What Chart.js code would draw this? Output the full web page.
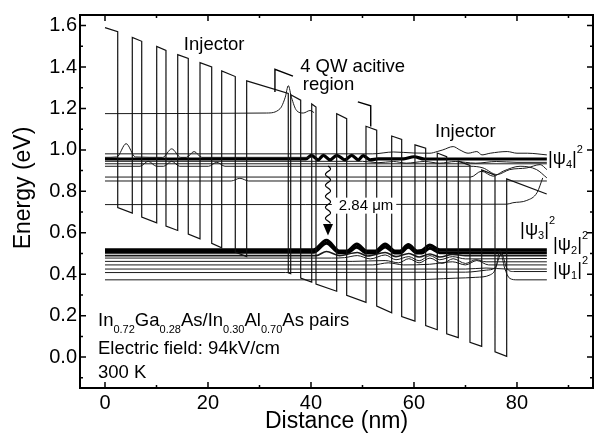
<!DOCTYPE html>
<html>
<head>
<meta charset="utf-8">
<script src="https://cdn.jsdelivr.net/npm/chart.js@4.4.1/dist/chart.umd.min.js"></script>
<style>
  html, body { margin: 0; padding: 0; background: #fff; }
</style>
</head>
<body>
<canvas id="c" width="598" height="442"></canvas>
<script>
(function () {
  'use strict';

  var FONT = "'Liberation Sans', Arial, sans-serif";

  // --- Axis ticks ---
  var xTicks = [0, 20, 40, 60, 80];
  var xMinor = [10, 30, 50, 70, 90];
  var yTicks = [0, 0.2, 0.4, 0.6, 0.8, 1.0, 1.2, 1.4, 1.6];
  var yMinor = [-0.1, 0.1, 0.3, 0.5, 0.7, 0.9, 1.1, 1.3, 1.5];

  // --- Conduction band: interface positions (nm) and band edges there (eV) ---
  var layerX = [0, 2.47, 5.30, 7.13, 10.04, 11.84, 14.12, 16.17, 18.45, 20.72, 22.66, 25.30, 27.51,
    35.59, 36.06, 38.0, 40.14, 40.97, 44.99, 46.93, 50.68, 52.76, 55.67, 57.61, 60.19, 62.27,
    64.52, 66.35, 68.6, 70.87, 73.15, 75.73, 78.0, 85.77];
  var barrierTop = [1.59, 1.571, 1.543, 1.524, 1.499, 1.480, 1.460, 1.441, 1.421, 1.400, 1.381, 1.354, 1.333,
    1.272, 1.266, 1.240, 1.222, 1.207, 1.175, 1.151, 1.114, 1.095, 1.067, 1.051, 1.024, 1.008,
    0.985, 0.967, 0.946, 0.925, 0.903, 0.878, 0.860, 0.787];
  var wellBottom = [0.745, 0.722, 0.695, 0.676, 0.648, 0.632, 0.611, 0.594, 0.571, 0.549, 0.528, 0.507, 0.485,
    0.407, 0.403, 0.381, 0.362, 0.352, 0.318, 0.298, 0.264, 0.246, 0.214, 0.196, 0.174, 0.152,
    0.132, 0.113, 0.094, 0.071, 0.052, 0.026, 0.004, 0.0];

  // --- |psi|^2 curves, drawn at their energy levels ---
  var s1175X = [0, 31.4, 34.0, 35.0, 35.6, 36.2, 37.2, 38.5, 39.8, 40.6];
  var s1175E = [1.175, 1.178, 1.199, 1.254, 1.31, 1.254, 1.19, 1.178, 1.19, 1.18];

  var up981X = [0, 52, 56, 60, 63.1, 64.5, 65.6, 67.6, 68.9, 70.5, 72.2, 73.2, 74.8, 78.1, 80, 82, 85.8];
  var up981E = [0.981, 0.981, 0.99, 0.985, 0.984, 0.992, 1.0, 1.016, 1.0, 0.984, 0.992, 0.976, 0.984, 0.992, 0.984, 0.984, 0.976];

  var up964X = [0, 2.3, 4.1, 5.9, 11.2, 12.95, 14.7, 15.8, 17.3, 18.8, 40];
  var up964E = [0.964, 0.966, 1.03, 0.966, 0.964, 1.005, 0.964, 0.964, 0.992, 0.964, 0.964];

  var psi4X = [0, 39, 40.1, 41.4, 42.4, 43.7, 45.0, 46.6, 47.9, 49.2, 50.1, 51.5, 53, 58, 60, 62, 85.8];
  var psi4E = [0.956, 0.956, 0.974, 0.952, 0.974, 0.952, 0.974, 0.952, 0.974, 0.952, 0.972, 0.952, 0.957, 0.957, 0.967, 0.956, 0.956];

  var up945X = [0, 50, 53, 56, 58.5, 62, 65, 68, 72, 76, 80, 85.8];
  var up945E = [0.945, 0.945, 0.938, 0.944, 0.936, 0.944, 0.936, 0.944, 0.936, 0.944, 0.94, 0.94];

  var up933X = [0, 60, 85.8];
  var up933E = [0.933, 0.933, 0.933];

  var up921X = [0, 6.8, 8.4, 10.0, 11.4, 12.95, 14.5, 20.1, 21.7, 23.3, 71, 73.4, 76.1, 78.6, 81.9, 84.5, 85.8];
  var up921E = [0.921, 0.921, 0.945, 0.921, 0.921, 0.945, 0.921, 0.921, 0.94, 0.921, 0.921, 0.913, 0.881, 0.905, 0.913, 0.929, 0.905];

  var up869X = [0, 71, 73.1, 75.4, 77.3, 80.6, 83.8, 85.8];
  var up869E = [0.869, 0.869, 0.897, 0.873, 0.897, 0.921, 0.905, 0.865];

  var up850X = [0, 24.5, 26.2, 27.9, 85.8];
  var up850E = [0.85, 0.85, 0.863, 0.85, 0.85];

  var s736X = [0, 78, 79.2, 81.9, 83.9, 85.0];
  var s736E = [0.736, 0.738, 0.745, 0.756, 0.794, 0.865];

  var lowAX = [0, 40.5, 43.0, 45.5, 47.0, 48.9, 50.8, 52.5, 54.4, 56.3, 57.3, 58.9, 60.6, 61.5, 63.1, 65.0, 85.8];
  var lowAE = [0.518, 0.518, 0.564, 0.512, 0.512, 0.545, 0.512, 0.512, 0.545, 0.512, 0.512, 0.543, 0.512, 0.514, 0.54, 0.518, 0.518];

  var lowBX = [0, 40.5, 43.0, 45.5, 47.0, 48.9, 50.8, 52.5, 54.4, 56.3, 57.3, 58.9, 60.6, 61.5, 63.1, 65.0, 85.8];
  var lowBE = [0.506, 0.506, 0.55, 0.504, 0.504, 0.53, 0.502, 0.502, 0.532, 0.502, 0.502, 0.53, 0.502, 0.502, 0.525, 0.504, 0.504];

  var lowCX = [0, 41, 43, 45.5, 49, 51, 54.4, 56.5, 59, 61, 63.1, 65, 67.5, 70, 85.8];
  var lowCE = [0.49, 0.49, 0.51, 0.49, 0.505, 0.488, 0.505, 0.485, 0.5, 0.483, 0.498, 0.483, 0.496, 0.49, 0.49];

  var lowDX = [0, 44, 46.5, 49, 51.5, 54.4, 56.5, 59, 61, 63.1, 65, 67.5, 70, 85.8];
  var lowDE = [0.478, 0.478, 0.48, 0.49, 0.474, 0.493, 0.47, 0.485, 0.465, 0.49, 0.47, 0.485, 0.474, 0.476];

  var lowEX = [0, 48, 54.4, 57, 59, 61, 63.1, 65.5, 67.6, 70, 72, 74, 85.8];
  var lowEE = [0.462, 0.462, 0.466, 0.455, 0.475, 0.455, 0.478, 0.452, 0.475, 0.452, 0.47, 0.46, 0.46];

  var lowFX = [0, 52, 55, 58, 63, 67.5, 70, 72.2, 74.5, 85.8];
  var lowFE = [0.445, 0.445, 0.455, 0.445, 0.448, 0.46, 0.445, 0.466, 0.445, 0.445];

  var lowGX = [0, 70, 74, 78, 85.8];
  var lowGE = [0.425, 0.425, 0.43, 0.425, 0.425];

  var psi1X = [0, 70, 74.1, 75.7, 77.0, 78.0, 79.3, 85.8];
  var psi1E = [0.408, 0.41, 0.42, 0.43, 0.5, 0.43, 0.413, 0.413];

  var lowIX = [0, 59, 68, 72, 74.8, 75.9, 76.7, 77.6, 78.6, 80, 85.8];
  var lowIE = [0.373, 0.373, 0.381, 0.385, 0.397, 0.43, 0.515, 0.43, 0.38, 0.373, 0.373];

  // --- helpers ---

  function pts(xs, es) {
    return xs.map(function (x, i) { return { x: x, y: es[i] }; });
  }

  function bandPath() {
    var out = [{ x: layerX[0], y: barrierTop[0] }];
    for (var i = 1; i < layerX.length; i++) {
      if (i === layerX.length - 1) { out.push({ x: layerX[i], y: barrierTop[i] }); break; }
      if (i % 2 === 1) {
        out.push({ x: layerX[i], y: barrierTop[i] });
        out.push({ x: layerX[i], y: wellBottom[i] });
      } else {
        out.push({ x: layerX[i], y: wellBottom[i] });
        out.push({ x: layerX[i], y: barrierTop[i] });
      }
    }
    return out;
  }

  function wave(xs, es, width, color) {
    return {
      data: pts(xs, es),
      showLine: true,
      borderColor: color || '#1a1a1a',
      borderWidth: width || 1,
      pointRadius: 0,
      tension: 0.4,
      cubicInterpolationMode: 'monotone'
    };
  }

  function richText(ctx, x, y, parts, size, subDy, supDy) {
    var small = Math.round(size * 0.6);
    parts.forEach(function (p) {
      var kind = p[1];
      ctx.font = (kind === 'n' ? size : small) + 'px ' + FONT;
      var dy = kind === 'sub' ? subDy : (kind === 'sup' ? supDy : 0);
      ctx.fillText(p[0], x, y + dy);
      x += ctx.measureText(p[0]).width;
    });
  }

  // --- frame, ticks, titles and notes ---

  var decor = {
    id: 'decor',
    afterDraw: function (chart) {
      var ctx = chart.ctx;
      var a = chart.chartArea;
      var xs = chart.scales.x, ys = chart.scales.y;
      function X(v) { return xs.getPixelForValue(v); }
      function Y(v) { return ys.getPixelForValue(v); }

      ctx.save();
      ctx.strokeStyle = '#000';
      ctx.fillStyle = '#000';

      // ticks (inside, all four sides)
      ctx.lineWidth = 1.5;
      ctx.beginPath();
      xTicks.forEach(function (v) {
        var p = X(v);
        ctx.moveTo(p, a.bottom); ctx.lineTo(p, a.bottom - 6);
        ctx.moveTo(p, a.top); ctx.lineTo(p, a.top + 6);
      });
      xMinor.forEach(function (v) {
        var p = X(v);
        ctx.moveTo(p, a.bottom); ctx.lineTo(p, a.bottom - 3);
        ctx.moveTo(p, a.top); ctx.lineTo(p, a.top + 3);
      });
      yTicks.forEach(function (v) {
        var p = Y(v);
        ctx.moveTo(a.left, p); ctx.lineTo(a.left + 6, p);
        ctx.moveTo(a.right, p); ctx.lineTo(a.right - 6, p);
      });
      yMinor.forEach(function (v) {
        var p = Y(v);
        ctx.moveTo(a.left, p); ctx.lineTo(a.left + 3, p);
        ctx.moveTo(a.right, p); ctx.lineTo(a.right - 3, p);
      });
      ctx.stroke();

      ctx.lineWidth = 2;
      ctx.strokeRect(a.left, a.top, a.right - a.left, a.bottom - a.top);

      // axis titles
      ctx.font = '23px ' + FONT;
      ctx.textAlign = 'center';
      ctx.textBaseline = 'middle';
      ctx.fillText('Distance (nm)', (a.left + a.right) / 2, 422);
      ctx.save();
      ctx.translate(24, 188);
      ctx.rotate(-Math.PI / 2);
      ctx.fillText('Energy (eV)', 0, 0);
      ctx.restore();

      // bracket over the active region
      ctx.lineWidth = 1.4;
      ctx.beginPath();
      ctx.moveTo(X(33.0), Y(1.28)); ctx.lineTo(X(33.0), Y(1.389)); ctx.lineTo(X(36.5), Y(1.356));
      ctx.moveTo(X(49.1), Y(1.232)); ctx.lineTo(X(51.6), Y(1.213)); ctx.lineTo(X(51.6), Y(1.113));
      ctx.stroke();

      // labels
      ctx.textBaseline = 'alphabetic';
      ctx.font = '18.5px ' + FONT;
      ctx.textAlign = 'center';
      ctx.fillText('Injector', X(21.2), Y(1.481));
      ctx.textAlign = 'left';
      ctx.fillText('4 QW acitive', X(37.9), Y(1.378));
      ctx.fillText('region', X(38.4), Y(1.289));
      ctx.fillText('Injector', X(64.1), Y(1.064));

      richText(ctx, X(86.0), Y(0.932), [['|\u03c8', 'n'], ['4', 'sub'], ['|', 'n'], ['2', 'sup']], 18.5, 4, -11);
      richText(ctx, X(80.6), Y(0.589), [['|\u03c8', 'n'], ['3', 'sub'], ['|', 'n'], ['2', 'sup']], 18.5, 4, -11);
      richText(ctx, X(87.0), Y(0.518), [['|\u03c8', 'n'], ['2', 'sub'], ['|', 'n'], ['2', 'sup']], 18.5, 4, -11);
      richText(ctx, X(87.0), Y(0.394), [['|\u03c8', 'n'], ['1', 'sub'], ['|', 'n'], ['2', 'sup']], 18.5, 4, -11);

      // 2.84 um transition: white box, text, wavy arrow
      ctx.font = '15px ' + FONT;
      var lbl = '2.84 \u03bcm';
      var lx = X(45.4), ly = Y(0.731);
      var w = ctx.measureText(lbl).width;
      ctx.fillStyle = '#fff';
      ctx.fillRect(lx - 7, ly - 8, w + 10, 16);
      ctx.fillStyle = '#000';
      ctx.textBaseline = 'middle';
      ctx.fillText(lbl, lx, ly);

      var ax = X(43.3), y0 = Y(0.922), yHead = Y(0.643), yTip = Y(0.587);
      ctx.lineWidth = 1.2;
      ctx.beginPath();
      for (var yy = y0; yy <= yHead; yy += 0.5) {
        var xx = ax + 2.5 * Math.sin((yy - y0) / 11 * 2 * Math.PI);
        if (yy === y0) ctx.moveTo(xx, yy); else ctx.lineTo(xx, yy);
      }
      ctx.stroke();
      ctx.beginPath();
      ctx.moveTo(ax - 5, yHead); ctx.lineTo(ax + 5, yHead); ctx.lineTo(ax, yTip); ctx.closePath();
      ctx.fill();

      // sample description
      ctx.textBaseline = 'alphabetic';
      richText(ctx, X(-1.36), 326, [['In', 'n'], ['0.72', 'sub'], ['Ga', 'n'], ['0.28', 'sub'], ['As/In', 'n'],
        ['0.30', 'sub'], ['Al', 'n'], ['0.70', 'sub'], ['As pairs', 'n']], 18.5, 7, -8);
      ctx.font = '18.5px ' + FONT;
      ctx.fillText('Electric field: 94kV/cm', X(-1.36), 354);
      ctx.fillText('300 K', X(-1.36), 378);

      ctx.restore();
    }
  };

  var datasets = [
    { data: bandPath(), showLine: true, borderColor: '#111', borderWidth: 1.2, pointRadius: 0, tension: 0 },
    wave(s1175X, s1175E),
    wave(up981X, up981E),
    wave(up964X, up964E),
    wave(up945X, up945E),
    wave(up933X, up933E),
    wave(up921X, up921E),
    wave(up869X, up869E),
    wave(up850X, up850E),
    wave(s736X, s736E),
    wave(psi4X, psi4E, 3.2, '#000'),
    wave(lowCX, lowCE, 1.6),
    wave(lowDX, lowDE),
    wave(lowEX, lowEE),
    wave(lowFX, lowFE),
    wave(lowGX, lowGE),
    wave(psi1X, psi1E),
    wave(lowIX, lowIE),
    wave(lowBX, lowBE, 3, '#000'),
    wave(lowAX, lowAE, 3.2, '#000')
  ];

  new Chart(document.getElementById('c').getContext('2d'), {
    type: 'scatter',
    data: { datasets: datasets },
    options: {
      responsive: false,
      animation: false,
      events: [],
      layout: { padding: { top: 10, right: 5, left: 0, bottom: 0 } },
      plugins: { legend: { display: false }, tooltip: { enabled: false } },
      scales: {
        x: {
          type: 'linear', min: -4.854, max: 94.76,
          grid: { display: false, drawTicks: false },
          border: { display: false },
          ticks: { color: '#000', font: { family: FONT, size: 20 }, padding: 3,
            callback: function (v) { return String(v); } },
          afterBuildTicks: function (s) { s.ticks = xTicks.map(function (v) { return { value: v }; }); },
          afterFit: function (s) { s.height = 54; }
        },
        y: {
          type: 'linear', min: -0.149, max: 1.651,
          grid: { display: false, drawTicks: false },
          border: { display: false },
          ticks: { color: '#000', font: { family: FONT, size: 20 }, padding: 3,
            callback: function (v) { return v.toFixed(1); } },
          afterBuildTicks: function (s) { s.ticks = yTicks.map(function (v) { return { value: v }; }); },
          afterFit: function (s) { s.width = 80; }
        }
      }
    },
    plugins: [decor]
  });
})();
</script>
</body>
</html>
